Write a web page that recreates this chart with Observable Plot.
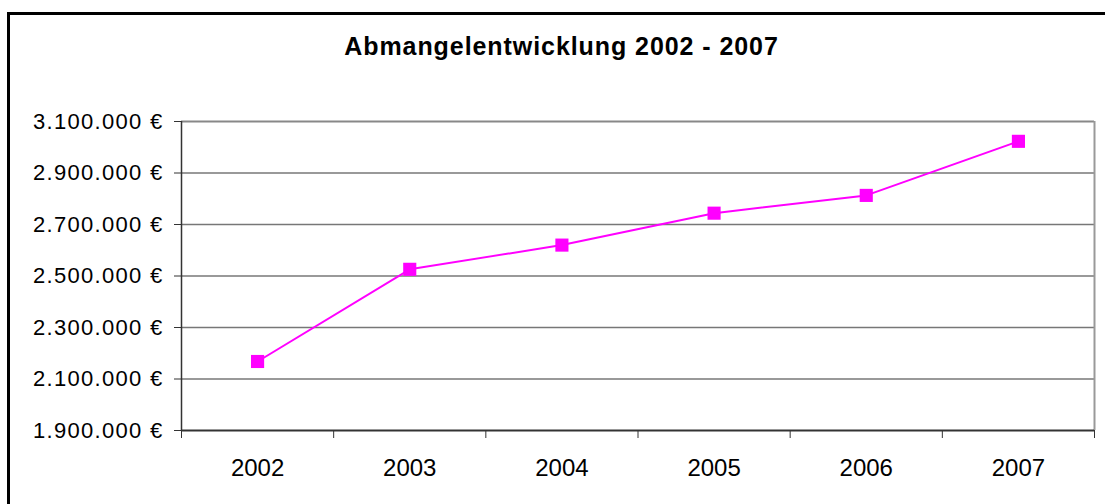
<!DOCTYPE html>
<html><head><meta charset="utf-8">
<script src="https://cdn.jsdelivr.net/npm/d3@7"></script>
<script src="https://cdn.jsdelivr.net/npm/@observablehq/plot@0.6"></script>
<style>
html,body{margin:0;padding:0;background:#fff;overflow:hidden;width:1105px;height:504px}
#wrap{position:relative;width:1105px;height:504px;overflow:hidden}
#title{position:absolute;left:0;width:1123px;top:32px;line-height:25px;text-align:center;font:bold 25px "Liberation Sans",Arial,sans-serif;letter-spacing:0.93px;color:#000}
#frame{position:absolute;left:7px;top:12px;width:1300px;height:700px;border:3px solid #000;box-sizing:border-box;pointer-events:none}
#chart{position:absolute;left:0;top:0}
</style>
</head><body>
<div id="wrap"><div id="chart"></div><div id="title">Abmangelentwicklung 2002 - 2007</div><div id="frame"></div></div>
<script>
const years = [2002, 2003, 2004, 2005, 2006, 2007];
const values = [2168000, 2526000, 2620000, 2744000, 2813000, 3023000];
const yTicks = [1900000, 2100000, 2300000, 2500000, 2700000, 2900000, 3100000];
const xBounds = [2001.5, 2002.5, 2003.5, 2004.5, 2005.5, 2006.5, 2007.5];

const de = d3.formatLocale({decimal: ",", thousands: ".", grouping: [3], currency: ["", " €"]});
const fmt = de.format(",.0f");
const data = years.map((y, i) => ({year: y, value: values[i]}));

const chart = Plot.plot({
  width: 1105,
  height: 504,
  marginLeft: 181,
  marginRight: 11,
  marginTop: 121,
  marginBottom: 74,
  style: {fontFamily: '"Liberation Sans", Arial, sans-serif', fontSize: "22px", color: "#000", background: "transparent"},
  x: {type: "linear", domain: [2001.5, 2007.5]},
  y: {type: "linear", domain: [1900000, 3100000]},
  marks: [
    Plot.ruleY(yTicks.slice(1, -1), {stroke: "#777", strokeWidth: 1.3}),
    Plot.ruleY([3100000], {stroke: "#888", strokeWidth: 2}),
    Plot.ruleX([2007.5], {stroke: "#999", strokeWidth: 2}),
    Plot.axisY({ticks: yTicks, tickSize: 7, tickPadding: 11, tickFormat: d => fmt(d) + " €", label: null, stroke: "#333"}),
    Plot.axisX({ticks: xBounds, tickSize: 8, tickFormat: () => "", label: null, stroke: "#333"}),
    Plot.axisX({ticks: years, tickSize: 0, tickPadding: 28, tickFormat: d => String(d), label: null, fontSize: 24}),
    Plot.ruleX([2001.5], {stroke: "#333", strokeWidth: 1.5}),
    Plot.ruleY([1900000], {stroke: "#333", strokeWidth: 2}),
    Plot.line(data, {x: "year", y: "value", stroke: "#FF00FF", strokeWidth: 2}),
    Plot.dot(data, {x: "year", y: "value", symbol: "square", r: 7.4, fill: "#FF00FF", stroke: "none"})
  ]
});
chart.querySelectorAll('[aria-label="y-axis tick label"] text').forEach(t => { t.style.letterSpacing = "1.3px"; });
chart.querySelectorAll('[aria-label="x-axis tick label"] text').forEach(t => { t.style.fontSize = "24px"; });
document.getElementById("chart").appendChild(chart);
</script>
</body></html>
